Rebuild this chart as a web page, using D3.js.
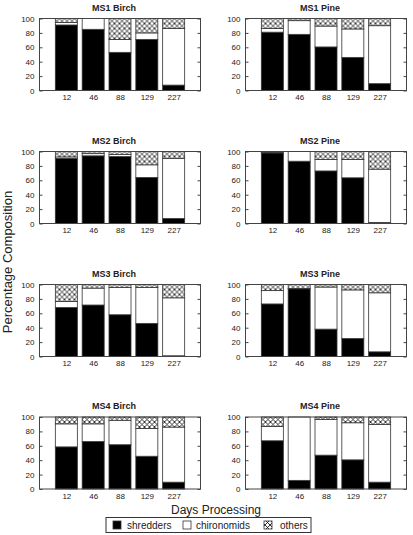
<!DOCTYPE html>
<html>
<head>
<meta charset="utf-8">
<script src="https://cdn.jsdelivr.net/npm/d3@7"></script>
<style>
  body { margin: 0; background: #fff; }
  svg { font-family: 'Liberation Sans', Arial, sans-serif; }
</style>
</head>
<body>
<svg width="413" height="535"></svg>
<script>
const width = 413,
  height = 535;
const svg = d3.select('svg');

// Days processing (categories on each x axis)
const days = ['12', '46', '88', '129', '227'];
const panels = ['MS1 Birch', 'MS1 Pine', 'MS2 Birch', 'MS2 Pine', 'MS3 Birch', 'MS3 Pine', 'MS4 Birch', 'MS4 Pine'];
const groups = ['shredders', 'chironomids', 'others'];
const yTicks = [0, 20, 40, 60, 80, 100];

// percentage values per panel, one entry per day
const shredders = [
  [91, 85, 53, 71, 7.5],
  [81, 78, 60.5, 46, 9.5],
  [90.5, 94, 93, 64, 7],
  [98, 86.5, 73, 63.5, 1.5],
  [68, 71.5, 58, 46, 1],
  [73, 94, 38, 25, 6.5],
  [58.5, 66, 61.5, 45.5, 9.5],
  [67, 12, 47, 40.5, 9.5],
];
const chironomids = [
  [3.5, 15, 18, 9, 78.5],
  [5, 19, 29, 39.5, 80.5],
  [2, 3, 3, 17.5, 83.5],
  [0.5, 13.5, 16, 25.5, 74],
  [8.5, 23.5, 38, 50, 80.5],
  [18.5, 0.5, 58.5, 67.5, 82],
  [32, 24.5, 34, 38.5, 76.5],
  [20, 88, 49.5, 51.5, 80],
];
const others = [
  [5.5, 0, 29, 20, 14],
  [14, 3, 10.5, 14.5, 10],
  [7.5, 3, 4, 18.5, 9.5],
  [1.5, 0, 11, 11, 24.5],
  [23.5, 5, 4, 4, 18.5],
  [8.5, 5.5, 3.5, 7.5, 11.5],
  [9.5, 9.5, 4.5, 16, 14],
  [13, 0, 3.5, 8, 10.5],
];

// crosshatch pattern for "others"
const defs = svg.append('defs');
const pat = defs
  .append('pattern')
  .attr('id', 'hatch')
  .attr('patternUnits', 'userSpaceOnUse')
  .attr('width', 5)
  .attr('height', 5);
pat.append('rect').attr('width', 5).attr('height', 5).attr('fill', '#fff');
pat
  .append('path')
  .attr('d', 'M0,0L5,5M5,0L0,5')
  .attr('stroke', '#000')
  .attr('stroke-width', 0.8);

const fills = { shredders: '#000', chironomids: '#fff', others: 'url(#hatch)' };

const colLeft = [39.5, 245.5],
  panelW = 161,
  rowTop = [18.5, 151.5, 284.5, 417],
  panelH = 72;

panels.forEach((name, p) => {
  const x0 = colLeft[p % 2],
    y0 = rowTop[Math.floor(p / 2)];
  const g = svg.append('g').attr('transform', `translate(${x0},${y0})`);

  const x = d3.scaleLinear().domain([0, 6]).range([0, panelW]);
  const y = d3.scaleLinear().domain([0, 100]).range([panelH, 0]);

  const rows = days.map((d, i) => ({
    day: d,
    i: i + 1,
    shredders: shredders[p][i],
    chironomids: chironomids[p][i],
    others: others[p][i],
  }));
  const stacked = d3.stack().keys(groups)(rows);

  stacked.forEach((layer) => {
    g.append('g')
      .selectAll('rect')
      .data(layer)
      .join('rect')
      .attr('x', (d) => x(d.data.i - 0.41))
      .attr('width', x(0.82) - x(0))
      .attr('y', (d) => y(d[1]))
      .attr('height', (d) => y(d[0]) - y(d[1]))
      .attr('fill', fills[layer.key])
      .attr('stroke', '#333')
      .attr('stroke-width', 0.8);
  });

  // frame
  g.append('rect')
    .attr('width', panelW)
    .attr('height', panelH)
    .attr('fill', 'none')
    .attr('stroke', '#444')
    .attr('stroke-width', 1);

  // y axis (left) with ticks pointing inward, mirror on right
  const yAxis = g.append('g').call(d3.axisLeft(y).tickValues(yTicks).tickSize(-3).tickPadding(5));
  yAxis.select('.domain').remove();
  yAxis.selectAll('line').attr('stroke', '#444');
  yAxis.selectAll('text').attr('font-size', 8).attr('fill', '#222');
  const yAxisR = g
    .append('g')
    .attr('transform', `translate(${panelW},0)`)
    .call(d3.axisRight(y).tickValues(yTicks).tickSize(-3).tickFormat(''));
  yAxisR.select('.domain').remove();
  yAxisR.selectAll('line').attr('stroke', '#444');

  // x labels
  const xAxis = g
    .append('g')
    .attr('transform', `translate(0,${panelH})`)
    .call(d3.axisBottom(x).tickValues([1, 2, 3, 4, 5]).tickSize(0).tickPadding(4).tickFormat((d) => days[d - 1]));
  xAxis.select('.domain').remove();
  xAxis.selectAll('text').attr('font-size', 8).attr('fill', '#222');

  // panel title
  g.append('text')
    .attr('x', panelW / 2 - 6)
    .attr('y', -8)
    .attr('text-anchor', 'middle')
    .attr('font-size', 9)
    .attr('font-weight', 'bold')
    .attr('fill', '#222')
    .text(name);
});

// axis titles
svg
  .append('text')
  .attr('transform', 'translate(12,262) rotate(-90)')
  .attr('text-anchor', 'middle')
  .attr('font-size', 13)
  .attr('fill', '#222')
  .text('Percentage Composition');

svg
  .append('text')
  .attr('x', 216)
  .attr('y', 514)
  .attr('text-anchor', 'middle')
  .attr('font-size', 12)
  .attr('fill', '#222')
  .text('Days Processing');

// legend
const legend = svg.append('g');
legend
  .append('rect')
  .attr('x', 106)
  .attr('y', 517.5)
  .attr('width', 205)
  .attr('height', 15)
  .attr('fill', '#fff')
  .attr('stroke', '#333')
  .attr('stroke-width', 1);
const legX = [113, 183, 264];
const legTextX = [127, 196, 280];
groups.forEach((k, i) => {
  legend
    .append('rect')
    .attr('x', legX[i])
    .attr('y', 521)
    .attr('width', 8)
    .attr('height', 8)
    .attr('fill', fills[k])
    .attr('stroke', '#333')
    .attr('stroke-width', 0.8);
  legend
    .append('text')
    .attr('x', legTextX[i])
    .attr('y', 528.5)
    .attr('font-size', 10)
    .attr('fill', '#222')
    .text(k);
});
</script>
</body>
</html>
